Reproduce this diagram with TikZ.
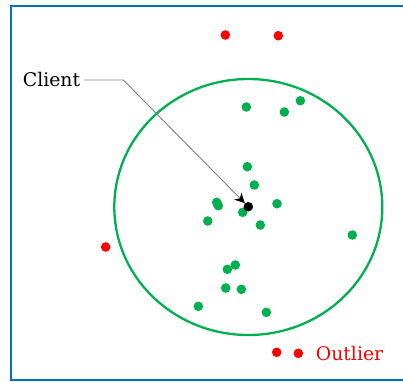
\documentclass[tikz,border=0pt]{standalone}
\usepackage{fontspec}
\setmainfont{DejaVu Serif}
\usetikzlibrary{arrows.meta}
\definecolor{myblue}{RGB}{0,112,192}
\definecolor{mygreen}{RGB}{0,176,80}
\definecolor{myred}{RGB}{255,0,0}
\begin{document}
\begin{tikzpicture}[x=1pt,y=-1pt,
  dot/.style={circle,inner sep=0pt,minimum size=9.6pt},
  gdot/.style={dot,fill=mygreen},
  rdot/.style={dot,fill=myred},
  lbl/.style={font=\fontsize{18.8}{22}\selectfont,inner sep=0pt}]
\useasboundingbox (0,0) rectangle (403,381);
% frame
\draw[myblue,line width=2.4pt] (404,6) -- (11,6) -- (11,380) -- (404,380);
% circle
\draw[mygreen,line width=2.3pt] (248.3,207) ellipse [x radius=134,y radius=128];
% red outliers
\node[rdot] (r1) at (225.3,35) {};
\node[rdot] (r2) at (278.3,35.7) {};
\node[rdot] (r3) at (105.7,247) {};
\node[rdot] (r4) at (276.7,352.3) {};
\node[rdot] (r5) at (298.3,353.3) {};
% green points
\node[gdot] (g1) at (246.3,107) {};
\node[gdot] (g2) at (284.3,112) {};
\node[gdot] (g3) at (300.3,100.7) {};
\node[gdot] (g4) at (247.3,166.7) {};
\node[gdot] (g5) at (254.3,185) {};
\node[gdot] (g6) at (216.7,202.3) {};
\node[gdot] (g7) at (218.3,205.7) {};
\node[gdot] (g8) at (242.7,212.3) {};
\node[gdot] (g9) at (277,203.7) {};
\node[gdot] (g10) at (207.7,221) {};
\node[gdot] (g11) at (260.3,225) {};
\node[gdot] (g12) at (352.3,235) {};
\node[gdot] (g13) at (235.3,265) {};
\node[gdot] (g14) at (227.3,269.3) {};
\node[gdot] (g15) at (225.7,288) {};
\node[gdot] (g16) at (241.3,289.3) {};
\node[gdot] (g17) at (198.3,306.3) {};
\node[gdot] (g18) at (266.3,312.3) {};
% client
\node[dot,fill=black] (client) at (248.3,206.7) {};
\node[lbl,anchor=west] (clientlabel) at (22.7,79) {Client};
\coordinate (bend) at (123.3,80);
\draw[gray,line width=0.9pt,-{Stealth[length=10pt,width=10pt,black]}] (84.3,80) -- (bend) -- (client);
% outlier label
\node[lbl,anchor=west,text=myred] (outlierlabel) at (315.7,353) {Outlier};
\end{tikzpicture}
\end{document}
